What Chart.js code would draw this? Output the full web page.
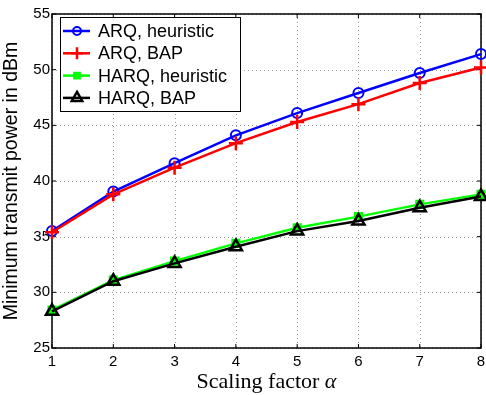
<!DOCTYPE html>
<html>
<head>
<meta charset="utf-8">
<script src="https://cdn.jsdelivr.net/npm/chart.js@4/dist/chart.umd.min.js"></script>
<style>
  html, body { margin: 0; padding: 0; background: #fff; }
  #wrap { width: 486px; height: 395px; }
</style>
</head>
<body>
<div id="wrap"><canvas id="chart" width="486" height="395"></canvas></div>
<script>
const scalingFactors = [1, 2, 3, 4, 5, 6, 7, 8];
const arqHeuristic = [35.5, 39.05, 41.6, 44.1, 46.1, 47.9, 49.7, 51.4];
const arqBap = [35.4, 38.8, 41.2, 43.4, 45.3, 46.9, 48.8, 50.2];
const harqHeuristic = [28.4, 31.1, 32.8, 34.4, 35.8, 36.8, 37.9, 38.8];
const harqBap = [28.3, 31.0, 32.6, 34.1, 35.5, 36.4, 37.6, 38.6];
const yTicks = [25, 30, 35, 40, 45, 50, 55];

const sans = '"Liberation Sans", Arial, Helvetica, sans-serif';
const serif = '"Liberation Serif", "Times New Roman", serif';

function toPoints(values) {
  return values.map((v, i) => ({ x: scalingFactors[i], y: v }));
}

// dotted grid under the lines
const gridPlugin = {
  id: 'dotgrid',
  beforeDatasetsDraw(chart) {
    const { ctx, chartArea: a } = chart;
    const xs = chart.scales.x, ys = chart.scales.y;
    ctx.save();
    ctx.strokeStyle = '#9a9a9a';
    ctx.lineWidth = 1;
    ctx.setLineDash([1, 3]);
    scalingFactors.forEach(v => {
      const px = Math.round(xs.getPixelForValue(v)) + 0.5;
      ctx.beginPath();
      ctx.moveTo(px, a.top); ctx.lineTo(px, a.bottom);
      ctx.stroke();
    });
    yTicks.forEach(v => {
      const py = Math.round(ys.getPixelForValue(v)) + 0.5;
      ctx.beginPath();
      ctx.moveTo(a.left, py); ctx.lineTo(a.right, py);
      ctx.stroke();
    });
    ctx.restore();
  }
};

// matlab style frame, x title and legend box
const framePlugin = {
  id: 'frame',
  beforeDatasetsDraw(chart) {
    const { ctx, chartArea: a } = chart;
    ctx.save();
    ctx.strokeStyle = '#000';
    ctx.lineWidth = 1.5;
    ctx.strokeRect(a.left, a.top, a.right - a.left, a.bottom - a.top);

    ctx.lineWidth = 1;
    const xs = chart.scales.x, ys = chart.scales.y;
    scalingFactors.forEach(v => {
      const px = xs.getPixelForValue(v);
      ctx.beginPath();
      ctx.moveTo(px, a.bottom); ctx.lineTo(px, a.bottom - 4);
      ctx.moveTo(px, a.top); ctx.lineTo(px, a.top + 4);
      ctx.stroke();
    });
    yTicks.forEach(v => {
      const py = ys.getPixelForValue(v);
      ctx.beginPath();
      ctx.moveTo(a.left, py); ctx.lineTo(a.left + 4, py);
      ctx.moveTo(a.right, py); ctx.lineTo(a.right - 4, py);
      ctx.stroke();
    });
    ctx.restore();
  },
  afterDraw(chart) {
    const { ctx, chartArea: a } = chart;
    ctx.save();
    // x axis title, alpha in italic
    ctx.fillStyle = '#000';
    ctx.textBaseline = 'alphabetic';
    const t1 = 'Scaling factor ';
    ctx.font = '22px ' + serif;
    const w1 = ctx.measureText(t1).width;
    ctx.font = 'italic 22px ' + serif;
    const w2 = ctx.measureText('α').width;
    const cx = (a.left + a.right) / 2;
    const startX = cx - (w1 + w2) / 2;
    ctx.font = '22px ' + serif;
    ctx.fillText(t1, startX, 388);
    ctx.font = 'italic 22px ' + serif;
    ctx.fillText('α', startX + w1, 388);

    // legend
    const lx = 60, ly = 17, lw = 180, lh = 94;
    ctx.fillStyle = '#fff';
    ctx.fillRect(lx, ly, lw, lh);
    ctx.strokeStyle = '#000';
    ctx.lineWidth = 1;
    ctx.strokeRect(lx + 0.5, ly + 0.5, lw, lh);
    ctx.textBaseline = 'middle';
    chart.data.datasets.forEach((ds, i) => {
      const cy = ly + 14 + i * 22.3;
      ctx.strokeStyle = ds.borderColor;
      ctx.lineWidth = 2.5;
      ctx.beginPath();
      ctx.moveTo(lx + 3, cy); ctx.lineTo(lx + 30, cy);
      ctx.stroke();
      ctx.fillStyle = ds.pointBackgroundColor;
      ctx.strokeStyle = ds.pointBorderColor;
      ctx.lineWidth = ds.pointBorderWidth;
      Chart.helpers.drawPoint(ctx, {
        pointStyle: ds.pointStyle,
        radius: ds.pointRadius - 1,
        borderWidth: ds.pointBorderWidth
      }, lx + 17, cy);
      ctx.fillStyle = '#000';
      ctx.font = '18px ' + sans;
      ctx.fillText(ds.label, lx + 38, cy + 1);
    });
    ctx.restore();
  }
};

new Chart(document.getElementById('chart'), {
  type: 'line',
  data: {
    datasets: [
      {
        label: 'ARQ, heuristic',
        data: toPoints(arqHeuristic),
        borderColor: '#0000ff',
        backgroundColor: '#ffffff',
        pointBackgroundColor: 'rgba(255,255,255,0)',
        pointBorderColor: '#0000ff',
        pointStyle: 'circle',
        pointRadius: 5,
        pointBorderWidth: 2,
        borderWidth: 2.5,
        clip: false,
        order: 4
      },
      {
        label: 'ARQ, BAP',
        data: toPoints(arqBap),
        borderColor: '#ff0000',
        backgroundColor: '#ff0000',
        pointBackgroundColor: '#ff0000',
        pointBorderColor: '#ff0000',
        pointStyle: 'cross',
        pointRadius: 7,
        pointBorderWidth: 2.5,
        borderWidth: 2.5,
        clip: false,
        order: 3
      },
      {
        label: 'HARQ, heuristic',
        data: toPoints(harqHeuristic),
        borderColor: '#00ff00',
        backgroundColor: '#00ff00',
        pointBackgroundColor: '#00ff00',
        pointBorderColor: '#00ff00',
        pointStyle: 'rect',
        pointRadius: 5,
        pointBorderWidth: 2,
        borderWidth: 2.5,
        clip: false,
        order: 2
      },
      {
        label: 'HARQ, BAP',
        data: toPoints(harqBap),
        borderColor: '#000000',
        backgroundColor: '#000000',
        pointBackgroundColor: 'rgba(0,0,0,0)',
        pointBorderColor: '#000000',
        pointStyle: 'triangle',
        pointRadius: 7,
        pointBorderWidth: 2.5,
        borderWidth: 2.5,
        clip: false,
        order: 1
      }
    ]
  },
  options: {
    responsive: false,
    animation: false,
    layout: { autoPadding: false, padding: { top: 14, right: 5, left: 0, bottom: 0 } },
    plugins: {
      legend: { display: false },
      tooltip: { enabled: false }
    },
    elements: { line: { tension: 0 } },
    scales: {
      x: {
        type: 'linear',
        min: 1,
        max: 8,
        afterBuildTicks(scale) {
          scale.ticks = scalingFactors.map(v => ({ value: v }));
        },
        grid: { display: false, drawTicks: false },
        border: { display: false },
        ticks: {
          color: '#000',
          font: { family: sans, size: 15 },
          padding: 5,
          maxRotation: 0
        },
        title: { display: false },
        afterFit(scale) {
          scale.height = 47;
          scale.paddingLeft = 0;
          scale.paddingRight = 0;
        }
      },
      y: {
        type: 'linear',
        min: 25,
        max: 55,
        afterBuildTicks(scale) {
          scale.ticks = yTicks.map(v => ({ value: v }));
        },
        grid: { display: false, drawTicks: false },
        border: { display: false },
        ticks: {
          color: '#000',
          font: { family: sans, size: 15 },
          padding: 2
        },
        title: {
          display: true,
          text: 'Minimum transmit power in dBm',
          color: '#000',
          font: { family: sans, size: 19.5 },
          padding: { top: 0, bottom: 0 }
        },
        afterFit(scale) {
          scale.width = 52;
          scale.paddingTop = 0;
          scale.paddingBottom = 0;
        }
      }
    }
  },
  plugins: [gridPlugin, framePlugin]
});
</script>
</body>
</html>
